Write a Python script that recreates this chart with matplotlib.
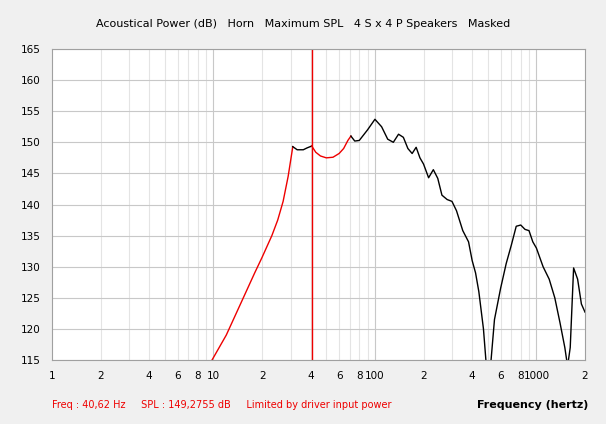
import matplotlib
matplotlib.use("Agg")
import matplotlib.pyplot as plt

red1_f = [9.8, 12, 15, 18, 20, 23, 25, 27, 29, 31]
red1_v = [115, 119, 124.5, 129, 131.5, 135, 137.5, 140.5, 144.5, 149.3]
blk1_f = [31, 33, 36, 38, 40.62]
blk1_v = [149.3, 148.8, 148.8, 149.1, 149.4]
red2_f = [40.62, 43, 46, 50, 55, 60, 64, 68, 71]
red2_v = [149.4, 148.4, 147.8, 147.5, 147.6, 148.2, 149.0, 150.3, 151.0]
blk2_f = [71, 75, 80, 90, 100, 110, 120, 130, 140, 150, 160, 170, 180, 190, 200, 215,
          230, 245, 260, 280, 300, 320, 350, 380, 400, 420, 440, 470, 490, 520, 550, 600, 650, 700, 750, 800, 850,
          900, 950, 1000, 1100, 1200, 1300, 1400, 1500, 1560, 1620, 1700, 1800, 1900, 2000]
blk2_v = [151.0, 150.2, 150.3, 152, 153.7, 152.5, 150.5, 150, 151.3, 150.8,
          149, 148.2, 149.2, 147.5, 146.5, 144.3, 145.6, 144.2, 141.5, 140.8, 140.5, 139, 135.8, 134, 131, 129,
          126, 120, 114, 114, 121.5, 126.5, 130.5, 133.5, 136.5, 136.7, 136, 135.8, 134, 133, 130, 128, 125, 121,
          117, 114, 117, 129.8, 128, 124, 122.7]
xticks = [1, 2, 4, 6, 8, 10, 20, 40, 60, 80, 100, 200, 400, 600, 800, 1000, 2000]
xlabels = ["1", "2", "4", "6", "8", "10", "2", "4", "6", "8", "100", "2", "4", "6", "8", "1000", "2"]
yticks = list(range(115, 166, 5))

fig = plt.figure(figsize=(6.06, 4.24), dpi=100, facecolor="#f0f0f0")
ax = fig.add_axes([52/606, 1-360/424, 533/606, 311/424])
ax.set_xscale("log")
ax.set_xlim(1, 2000)
ax.set_ylim(115, 165)
minors = [m * 10**d for d in range(0, 4) for m in range(2, 10) if m * 10**d < 2000]
for m in minors:
    ax.axvline(m, color="#e4e4e4", lw=0.8, zorder=0)
for d in [10, 100, 1000]:
    ax.axvline(d, color="#c8c8c8", lw=0.8, zorder=0)
for y in yticks:
    ax.axhline(y, color="#c8c8c8", lw=0.8, zorder=0)
ax.plot(red1_f, red1_v, color="#ee0000", lw=1)
ax.plot(blk1_f, blk1_v, color="black", lw=1)
ax.plot(red2_f, red2_v, color="#ee0000", lw=1)
ax.plot(blk2_f, blk2_v, color="black", lw=1)
ax.axvline(40.62, color="#ee0000", lw=1)
ax.set_xticks(xticks)
ax.set_xticklabels(xlabels)
ax.xaxis.set_minor_locator(matplotlib.ticker.NullLocator())
ax.set_yticks(yticks)
ax.tick_params(length=0, labelsize=7.5, pad=8)
for s in ax.spines.values():
    s.set_color("#a0a0a0")
fig.text(0.5, 1-24/424, "Acoustical Power (dB)   Horn   Maximum SPL   4 S x 4 P Speakers   Masked",
         ha="center", va="center", fontsize=8)
fig.text(52/606, 1-405/424, "Freq : 40,62 Hz     SPL : 149,2755 dB     Limited by driver input power",
         color="#ee0000", fontsize=7, va="center")
fig.text(588/606, 1-405/424, "Frequency (hertz)", ha="right", va="center", fontsize=8, fontweight="bold")
fig.savefig("out.png", dpi=100, facecolor=fig.get_facecolor())
